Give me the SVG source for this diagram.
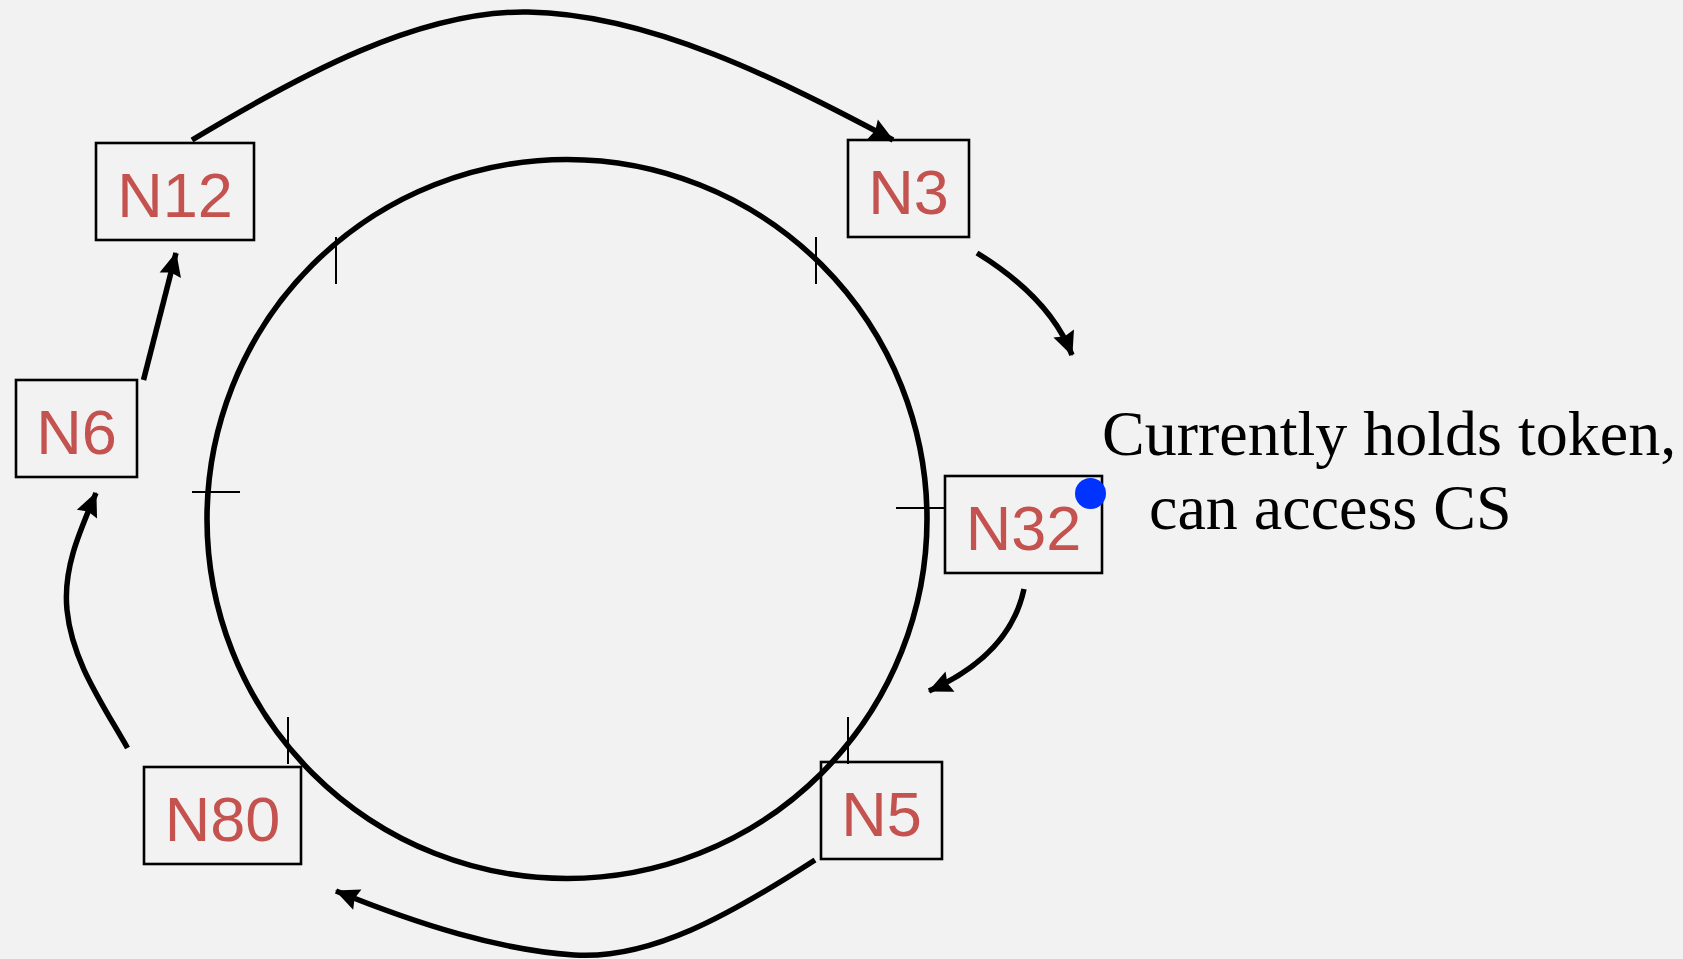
<svg xmlns="http://www.w3.org/2000/svg" width="1683" height="959" viewBox="0 0 1683 959">
<style>
.box{fill:none;stroke:#000;stroke-width:2.6}
.lbl{font-family:"Liberation Sans",Arial,sans-serif;font-size:63px;fill:#c4524f;text-anchor:middle}
.conn{fill:none;stroke:#000;stroke-width:5.5}
.tick{stroke:#000;stroke-width:2}
.note{font-family:"Liberation Serif","Times New Roman",serif;font-size:64px;fill:#000}
</style>
<defs>
<marker id="arr" markerUnits="userSpaceOnUse" markerWidth="30" markerHeight="26" refX="23" refY="11" orient="auto" overflow="visible">
<path d="M0,0 L24,11 L0,22 L3,11 z" fill="#000"/>
</marker>
</defs>
<rect width="1683" height="959" fill="#f2f2f2"/>
<g id="ring">
<ellipse cx="567" cy="519" rx="360" ry="359.5" fill="none" stroke="#000" stroke-width="5.6"/>
<line class="tick" x1="336" y1="237" x2="336" y2="284"/>
<line class="tick" x1="816" y1="237" x2="816" y2="284"/>
<line class="tick" x1="192" y1="492" x2="240" y2="492"/>
<line class="tick" x1="896" y1="508" x2="945" y2="508"/>
<line class="tick" x1="288" y1="717" x2="288" y2="764"/>
<line class="tick" x1="848" y1="717" x2="848" y2="764"/>
</g>
<g id="connectors">
<path class="conn" marker-end="url(#arr)" d="M192,140 C300,75 420,10 528,12 C650,14 780,80 893,140"/>
<path class="conn" marker-end="url(#arr)" d="M977,253 Q1050,298 1072,355"/>
<path class="conn" marker-end="url(#arr)" d="M1024,589 Q1010,655 929,691"/>
<path class="conn" marker-end="url(#arr)" d="M815,860 C730,915 650,960 574,955 C500,950 420,925 336,891"/>
<path class="conn" marker-end="url(#arr)" d="M127.5,748 C100,700 72,660 67,610 C63,570 78,535 96,493"/>
<path class="conn" marker-end="url(#arr)" d="M143.5,380 L176,253"/>
</g>
<g id="N12"><rect class="box" x="96" y="143" width="158" height="97"/><text class="lbl" x="175" y="217">N12</text></g>
<g id="N3"><rect class="box" x="848" y="140" width="121" height="97"/><text class="lbl" x="908.5" y="214">N3</text></g>
<g id="N6"><rect class="box" x="16" y="380" width="121" height="97"/><text class="lbl" x="76.5" y="454">N6</text></g>
<g id="N32"><rect class="box" x="945" y="476" width="157" height="97"/><text class="lbl" x="1023.5" y="550">N32</text><circle cx="1090.5" cy="493.5" r="15.5" fill="#0033ff"/></g>
<g id="N80"><rect class="box" x="144" y="767" width="157" height="97"/><text class="lbl" x="222.5" y="841">N80</text></g>
<g id="N5"><rect class="box" x="821" y="762" width="121" height="97"/><text class="lbl" x="881.5" y="836">N5</text></g>
<g id="note">
<text class="note" x="1102" y="455">Currently holds token,</text>
<text class="note" x="1149" y="529">can access CS</text>
</g>
</svg>
